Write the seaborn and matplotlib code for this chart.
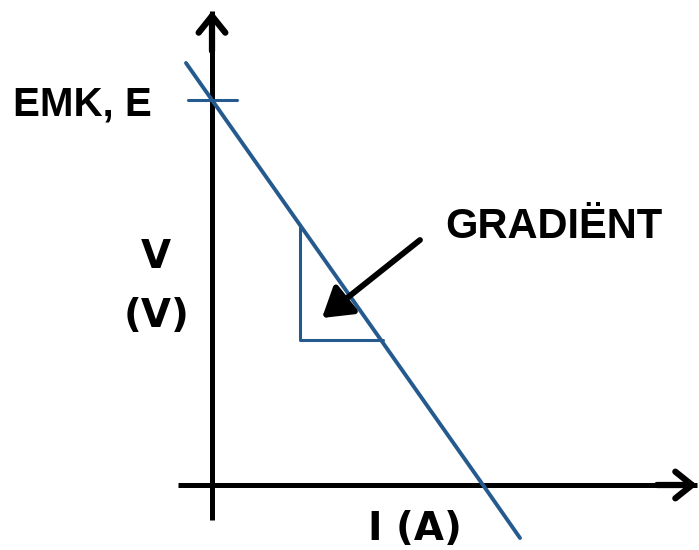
import pandas as pd
import matplotlib
matplotlib.use("Agg")
import matplotlib.pyplot as plt
import seaborn as sns

# --- Terminal voltage vs current sketch (V = E - I r) ---
# Coordinates are in sketch units, origin where the two axes cross.

emk = 385                    # EMF, E (intercept on V axis)
i_short = 271                # intercept on I axis

# drawn line, runs a bit past both axes
line_i = [-26, 0, 271, 308]
line_v = [422, 385, 0, -53]

# gradient triangle (vertical leg then horizontal leg)
tri_i = [88, 88, 171]
tri_v = [258, 145, 145]

# small tick marking E on the V axis
tick_i = [-24, 25]
tick_v = [emk, emk]

# axis extents
x_axis = [-34, 485]
y_axis = [-35, 474]

# gradient arrow (tail, head)
grad_tail = (208, 245)
grad_head = (110, 167)

BLUE = "#245a8e"

sns.set_theme(style="white")
plt.rcParams["font.family"] = ["Liberation Sans", "DejaVu Sans"]
plt.rcParams["text.color"] = "black"

fig = plt.figure(figsize=(6.99, 5.5), dpi=100)
ax = fig.add_axes([0, 0, 1, 1])
ax.set_xlim(-212, 487)
ax.set_ylim(-65, 485)
ax.axis("off")

# axes with open arrow heads
ax.plot(x_axis, [0, 0], color="black", lw=3.6, solid_capstyle="butt")
ax.plot([0, 0], y_axis, color="black", lw=3.6, solid_capstyle="butt")
head = "->,head_length=1.0,head_width=0.8"
ax.annotate("", xy=(x_axis[1], 0), xytext=(x_axis[1] - 40, 0),
            annotation_clip=False,
            arrowprops=dict(arrowstyle=head, lw=4.5, color="black",
                            shrinkA=0, shrinkB=0, capstyle="round"))
ax.annotate("", xy=(0, y_axis[1]), xytext=(0, y_axis[1] - 40),
            annotation_clip=False,
            arrowprops=dict(arrowstyle=head, lw=4.5, color="black",
                            shrinkA=0, shrinkB=0, capstyle="round"))

# the V-I line
df = pd.DataFrame({"I": line_i, "V": line_v})
sns.lineplot(data=df, x="I", y="V", ax=ax, color=BLUE, lw=2.8,
             sort=False, estimator=None)

ax.plot(tri_i, tri_v, color=BLUE, lw=2.2)
ax.plot(tick_i, tick_v, color=BLUE, lw=2.2)

# gradient pointer
ax.annotate("", xy=grad_head, xytext=grad_tail,
            arrowprops=dict(arrowstyle="-|>,head_length=0.8,head_width=0.5",
                            lw=4.2, color="black", shrinkA=0, shrinkB=0,
                            mutation_scale=22))

# labels
ax.text(-199, 370, "EMK, E", fontsize=29, fontweight="bold",
        ha="left", va="baseline", color="black")
ax.text(233, 247, "GRADIËNT", fontsize=30, fontweight="bold",
        ha="left", va="baseline", color="black")
ax.text(-56, 217, "V", fontsize=28, fontweight="bold", ha="center",
        va="baseline", family="DejaVu Sans", color="black")
ax.text(-55, 158, "(V)", fontsize=28, fontweight="bold", ha="center",
        va="baseline", family="DejaVu Sans", color="black")
ax.text(156, -55, "I (A)", fontsize=28, fontweight="bold", ha="left",
        va="baseline", family="DejaVu Sans", color="black")

fig.savefig("out.png", dpi=100)
